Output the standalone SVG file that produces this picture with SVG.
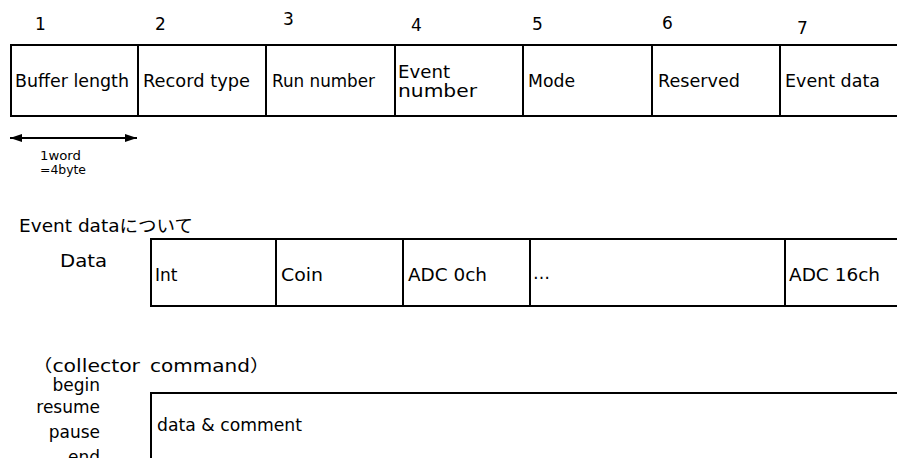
<svg xmlns="http://www.w3.org/2000/svg" width="897" height="458" viewBox="0 0 897 458">
<style>
text{font-family:"DejaVu Sans","Noto Sans CJK JP",sans-serif;fill:#000;}
.t{font-size:17px;}
.n{font-size:17px;}
.s{font-size:12px;}
.box{fill:#fff;stroke:#000;stroke-width:2;}
.div{stroke:#000;stroke-width:2;fill:none;}
.r{text-anchor:end;}
</style>
<defs>
<marker id="ah" viewBox="0 0 12 8" refX="12" refY="4" markerWidth="12" markerHeight="8" markerUnits="userSpaceOnUse" orient="auto-start-reverse">
<path d="M0,0 L12,4 L0,8 Z" fill="#000"/>
</marker>
</defs>
<rect width="897" height="458" fill="#fff"/>

<g id="numbers">
<text class="n" x="35" y="30">1</text>
<text class="n" x="155" y="30">2</text>
<text class="n" x="283" y="25">3</text>
<text class="n" x="411" y="31">4</text>
<text class="n" x="532" y="30">5</text>
<text class="n" x="662" y="29">6</text>
<text class="n" x="797" y="34">7</text>
</g>

<g id="record">
<rect class="box" x="11" y="45" width="900" height="71"/>
<g id="buffer-length"><text class="t" x="15" y="87" textLength="114" lengthAdjust="spacingAndGlyphs">Buffer length</text></g>
<g id="record-type"><line class="div" x1="138" y1="45" x2="138" y2="116"/><text class="t" x="143" y="87" textLength="107" lengthAdjust="spacingAndGlyphs">Record type</text></g>
<g id="run-number"><line class="div" x1="266" y1="45" x2="266" y2="116"/><text class="t" x="272" y="87" textLength="103" lengthAdjust="spacingAndGlyphs">Run number</text></g>
<g id="event-number"><line class="div" x1="395" y1="45" x2="395" y2="116"/><text class="t" x="398" y="78" textLength="52" lengthAdjust="spacingAndGlyphs">Event</text><text class="t" x="398" y="97" textLength="79" lengthAdjust="spacingAndGlyphs">number</text></g>
<g id="mode"><line class="div" x1="523" y1="45" x2="523" y2="116"/><text class="t" x="528" y="87" textLength="47" lengthAdjust="spacingAndGlyphs">Mode</text></g>
<g id="reserved"><line class="div" x1="652" y1="45" x2="652" y2="116"/><text class="t" x="658" y="87" textLength="82" lengthAdjust="spacingAndGlyphs">Reserved</text></g>
<g id="event-data"><line class="div" x1="780" y1="45" x2="780" y2="116"/><text class="t" x="785" y="87" textLength="95" lengthAdjust="spacingAndGlyphs">Event data</text></g>
</g>

<g id="connectors">
<line x1="10" y1="138" x2="137" y2="138" stroke="#000" stroke-width="2" marker-start="url(#ah)" marker-end="url(#ah)"/>
</g>
<g id="word-note">
<text class="s" x="40" y="160" textLength="41" lengthAdjust="spacingAndGlyphs">1word</text>
<text class="s" x="40" y="174" textLength="46" lengthAdjust="spacingAndGlyphs">=4byte</text>
</g>

<g id="event-data-title"><text class="t" x="19" y="232" textLength="174" lengthAdjust="spacingAndGlyphs">Event dataについて</text></g>
<g id="data-label"><text class="t" x="60" y="267" textLength="47" lengthAdjust="spacingAndGlyphs">Data</text></g>

<g id="data-row">
<rect class="box" x="151" y="239" width="760" height="67"/>
<g id="int"><text class="t" x="155" y="281">Int</text></g>
<g id="coin"><line class="div" x1="276" y1="239" x2="276" y2="306"/><text class="t" x="281" y="281" textLength="42" lengthAdjust="spacingAndGlyphs">Coin</text></g>
<g id="adc0"><line class="div" x1="403" y1="239" x2="403" y2="306"/><text class="t" x="408" y="281" textLength="79" lengthAdjust="spacingAndGlyphs">ADC 0ch</text></g>
<g id="dots"><line class="div" x1="530" y1="239" x2="530" y2="306"/><text class="t" x="533" y="279">…</text></g>
<g id="adc16"><line class="div" x1="785" y1="239" x2="785" y2="306"/><text class="t" x="789" y="281" textLength="91" lengthAdjust="spacingAndGlyphs">ADC 16ch</text></g>
</g>

<g id="collector-title"><text class="t" y="372"><tspan x="32" textLength="108" lengthAdjust="spacingAndGlyphs">（collector</tspan><tspan x="130" textLength="140" lengthAdjust="spacingAndGlyphs">　command）</tspan></text></g>
<g id="commands">
<text class="t r" x="100" y="391">begin</text>
<text class="t r" x="100" y="413">resume</text>
<text class="t r" x="100" y="438">pause</text>
<text class="t r" x="100" y="463">end</text>
</g>
<g id="comment-box">
<rect class="box" x="151" y="393" width="760" height="80"/>
<text class="t" x="157" y="431" textLength="145" lengthAdjust="spacingAndGlyphs">data &amp; comment</text>
</g>
</svg>
